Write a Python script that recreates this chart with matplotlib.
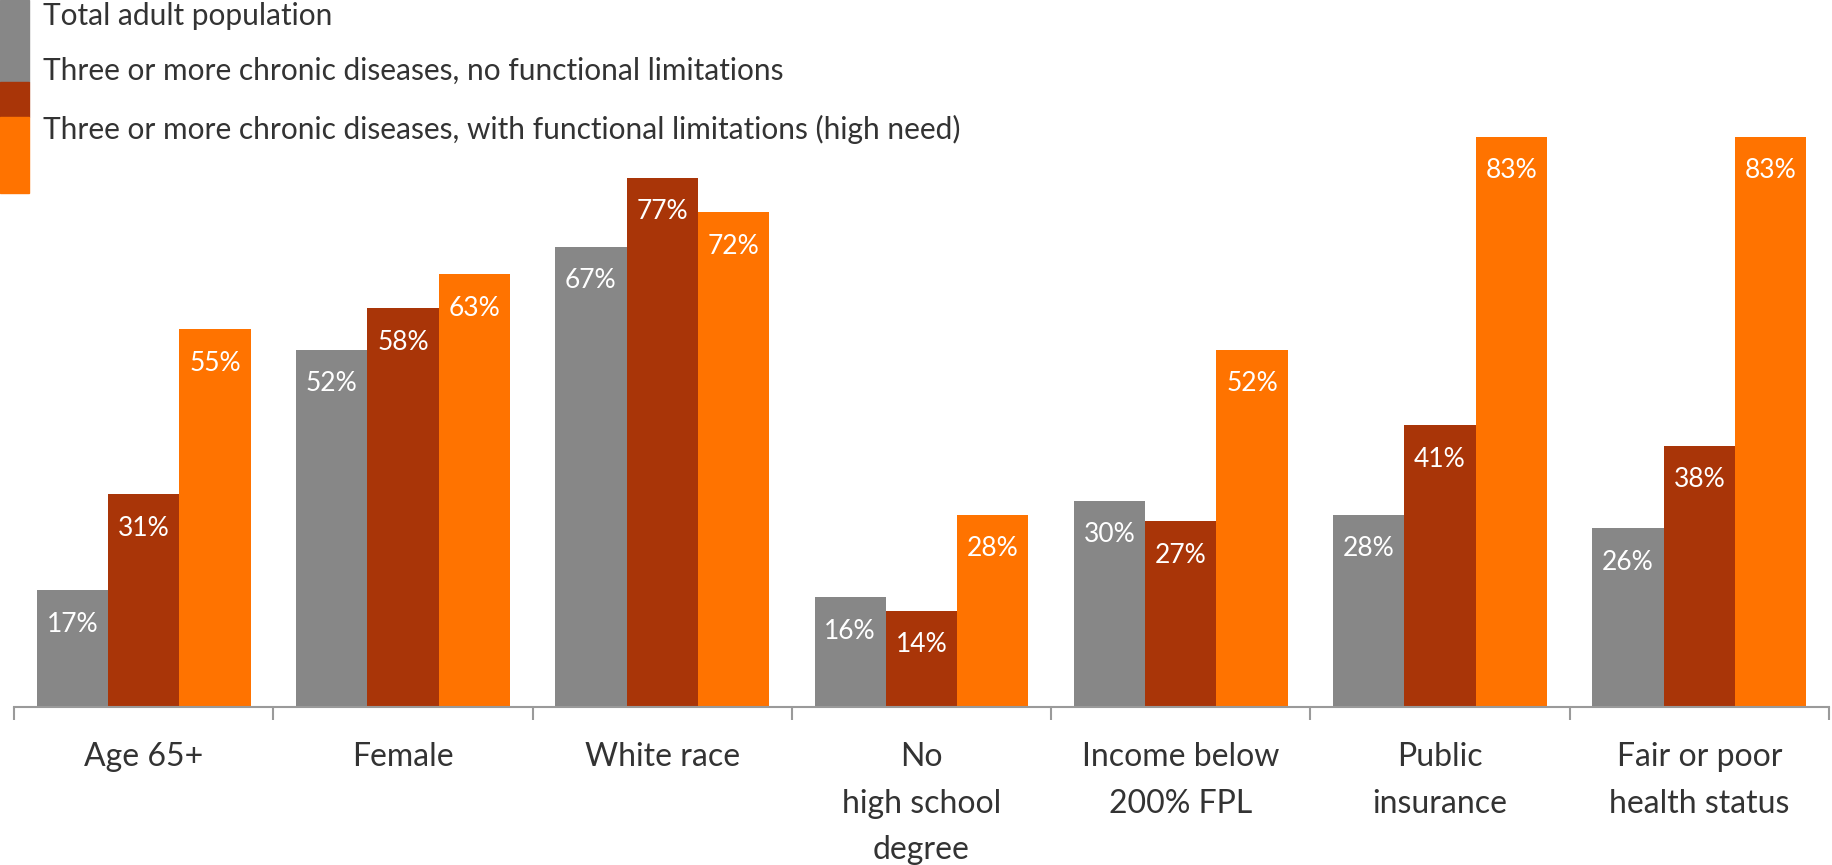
import matplotlib
matplotlib.use("Agg")
import matplotlib.pyplot as plt
from matplotlib.patches import Rectangle
import numpy as np

plt.rcParams['font.family'] = ['Lato', 'DejaVu Sans']

categories = ["Age 65+", "Female", "White race", "No\nhigh school\ndegree",
              "Income below\n200% FPL", "Public\ninsurance", "Fair or poor\nhealth status"]
series_names = ["Total adult population",
                "Three or more chronic diseases, no functional limitations",
                "Three or more chronic diseases, with functional limitations (high need)"]
total_adult = [17, 52, 67, 16, 30, 28, 26]
chronic_no_limit = [31, 58, 77, 14, 27, 41, 38]
chronic_high_need = [55, 63, 72, 28, 52, 83, 83]
colors = ["#878787", "#A93508", "#FF7300"]

W, H = 1832, 865
fig = plt.figure(figsize=(W / 100, H / 100), dpi=100)
ax = fig.add_axes([14 / W, (H - 707) / H, (1829 - 14) / W, 707 / H])

x = np.arange(len(categories))
bw = 0.275
series = [total_adult, chronic_no_limit, chronic_high_need]
for k, (vals, col) in enumerate(zip(series, colors)):
    bars = ax.bar(x + (k - 1) * bw, vals, width=bw, color=col, edgecolor='none')
    for b, v in zip(bars, vals):
        ax.annotate(f"{v}%", (b.get_x() + b.get_width() / 2, v),
                    xytext=(0, -15.5), textcoords='offset points',
                    ha='center', va='top', color='white', fontsize=19)

ax.set_xlim(-0.5, len(categories) - 0.5)
ax.set_ylim(0, 102.9)
for s in ['top', 'right', 'left']:
    ax.spines[s].set_visible(False)
ax.spines['bottom'].set_color('#9a9a9a')
ax.spines['bottom'].set_linewidth(1.5)
ax.set_yticks([])
ax.set_xticks(x)
ax.set_xticklabels(categories, fontsize=23, color='#333333', linespacing=1.7)
ax.tick_params(axis='x', which='major', length=0, pad=25)
ax.set_xticks(np.arange(len(categories) + 1) - 0.5, minor=True)
ax.tick_params(axis='x', which='minor', length=9, width=1.5, color='#9a9a9a')

# legend (manual, overlapping tall swatches as in reference)
swatches = [(0, 82), (82, 117), (117, 193)]
text_y = [16, 71, 129]
for (y0, y1), col, name, ty in zip(swatches, colors, series_names, text_y):
    fig.patches.append(Rectangle((0, 1 - y1 / H), 29 / W, (y1 - y0) / H,
                                 transform=fig.transFigure, color=col, zorder=5))
    fig.text(43 / W, 1 - ty / H, name, ha='left', va='center', fontsize=21.5, color='#333333')

fig.savefig("out.png", dpi=100)
